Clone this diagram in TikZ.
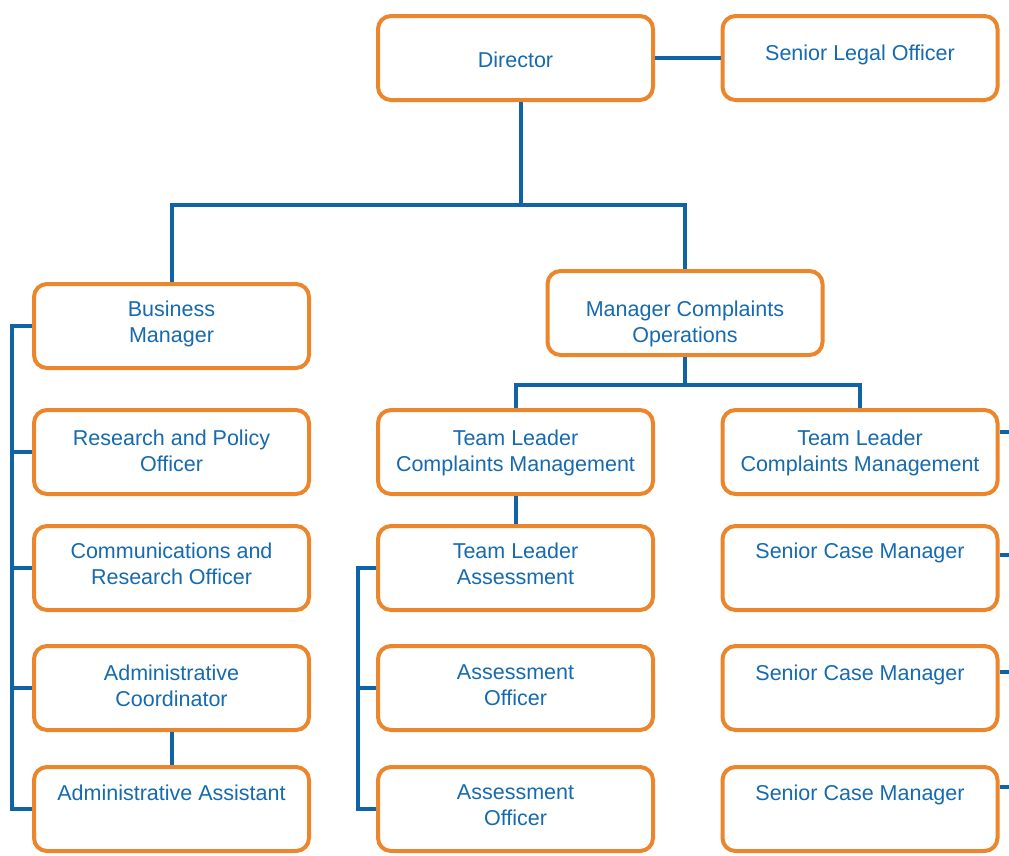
\documentclass[tikz,border=0pt]{standalone}
\usepackage{fontspec}
\setmainfont{Liberation Sans}

\definecolor{boxorange}{RGB}{236,134,44}
\definecolor{lineblue}{RGB}{16,100,166}
\definecolor{textblue}{RGB}{22,106,176}

\begin{document}
\begin{tikzpicture}[x=1pt,y=-1pt,line width=4pt,
		orgbox/.style={draw=boxorange,fill=white,rounded corners=13pt,
			minimum width=275pt,minimum height=84pt,inner sep=0pt},
		orgtext/.style={anchor=north,inner sep=0pt,align=center,text=textblue,
			font=\fontsize{21.5}{25.5}\selectfont},
		link/.style={draw=lineblue,line cap=butt}]
		\useasboundingbox (0,0) rectangle (1009,855);

		% name / centre x / centre y / top of text / text
		\foreach \name/\x/\y/\t/\txt in
		{dir/515.5/58/50/Director,
		slo/860/58/43/Senior Legal Officer,
		bm/171.5/326/299/{Business\\Manager},
		mco/685/313/299/{Manager Complaints\\Operations},
		rpo/171.5/452/428/{Research and Policy\\Officer},
		cro/171.5/568/541/{Communications and\\Research Officer},
		ac/171.5/688/663/{Administrative\\Coordinator},
		aa/171.5/809/783/Administrative Assistant,
		tlc/515.5/452/428/{Team Leader\\Complaints Management},
		tlr/860/452/428/{Team Leader\\Complaints Management},
		tla/515.5/568/541/{Team Leader\\Assessment},
		aoa/515.5/688/663/{Assessment\\Officer},
		aob/515.5/809/783/{Assessment\\Officer},
		scma/860/568/541/Senior Case Manager,
		scmb/860/688/663/Senior Case Manager,
		scmc/860/809/783/Senior Case Manager}
		{
			\node[orgbox] (\name) at (\x,\y) {};
			\node[orgtext] (\name-txt) at (\x,\t) {\txt};
		}

		\coordinate (fork) at (0,205);
		\coordinate (split) at (0,385);
		\coordinate (lbar) at (12,0);
		\coordinate (abar) at (358,0);

		\draw[link] (dir) -- (slo);
		\draw[link] ([xshift=5pt]dir.south) -- ([xshift=5pt]dir.south |- fork) -| (bm.north);
		\draw[link] ([xshift=5pt]dir.south |- fork) -| (mco.north);
		\draw[link] (mco.south) -- (mco.south |- split) -| (tlc.north);
		\draw[link] (mco.south |- split) -| (tlr.north);
		\draw[link] (tlc) -- (tla);
		\draw[link] (ac) -- (aa);

		% left bracket
		\draw[link] (bm.west) -| (lbar |- aa.west) -- (aa.west);
		\foreach \b in {rpo,cro,ac}
			\draw[link] (\b.west) -- (\b.west -| lbar);

		% assessment bracket
		\draw[link] (tla.west) -| (abar |- aob.west) -- (aob.west);
		\draw[link] (aoa.west) -- (aoa.west -| abar);

		% stubs off the right edge
		\foreach \b/\s in {tlr/20,scma/13,scmb/16,scmc/22}
			\draw[link] ([yshift=\s pt]\b.east) -- ++(14,0);
	\end{tikzpicture}
\end{document}
